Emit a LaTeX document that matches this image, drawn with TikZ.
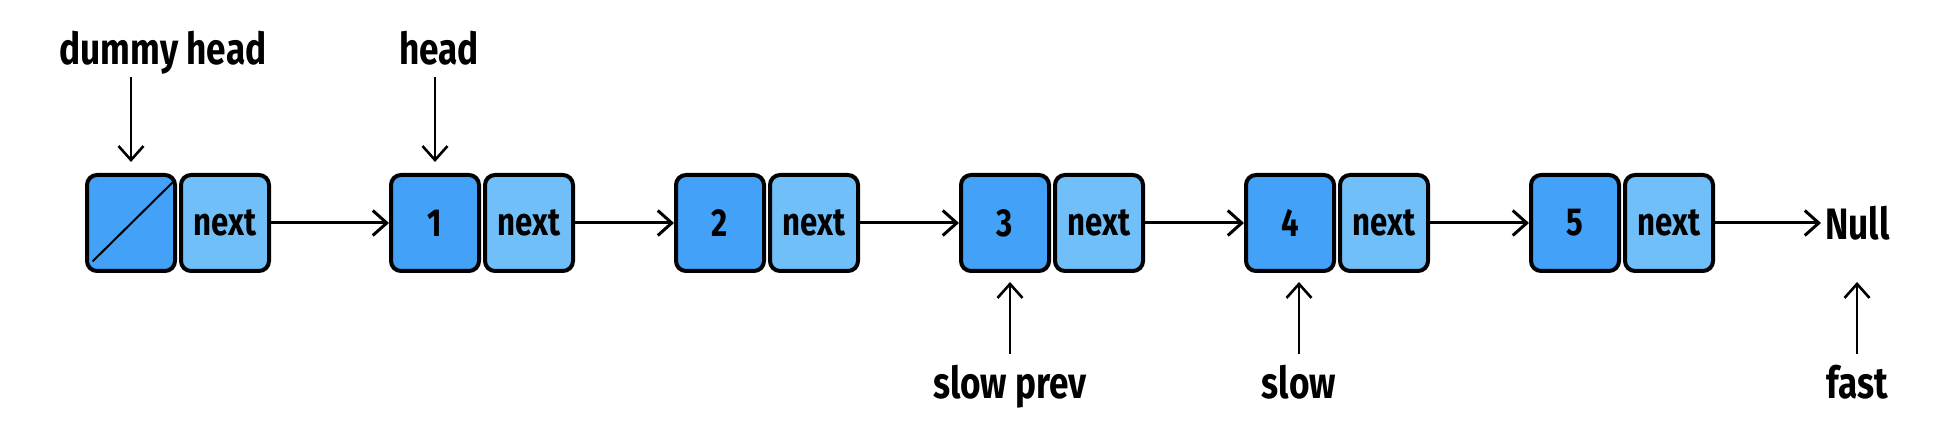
\documentclass[tikz,border=0pt]{standalone}
\usepackage{fontspec}
\setmainfont{Fira Sans}[FakeStretch=0.8]
\usepackage{tikz}
\usetikzlibrary{arrows.meta,positioning}
\definecolor{valblue}{HTML}{43A1F7}
\definecolor{nextblue}{HTML}{71BFF9}

\begin{document}
\begin{tikzpicture}[x=0.5pt,y=-0.5pt,
  font=\bfseries,
  cell/.style={rounded corners=5pt,draw=black,line width=2pt,inner sep=0pt,
    minimum width=44pt,minimum height=48pt,font=\fontsize{19.5}{21}\selectfont\bfseries},
  val/.style={cell,fill=valblue},
  nxt/.style={cell,fill=nextblue},
  lbl/.style={font=\fontsize{22}{24}\selectfont\bfseries,inner sep=3pt,text depth=0pt},
  link/.style={-{Straight Barb[length=7pt,width=12.5pt]},line width=1.5pt},
  ptr/.style={link,line width=1.3pt}]
\useasboundingbox (0,0) rectangle (1952,448);
% list cells
\node[val] (v0) at (131,223) {};
\node[nxt,right=1pt of v0] (n0) {next};
\node[val,right=59pt of n0] (v1) {1};
\node[nxt,right=1pt of v1] (n1) {next};
\node[val,right=49.5pt of n1] (v2) {2};
\node[nxt,right=1pt of v2] (n2) {next};
\node[val,right=49.5pt of n2] (v3) {3};
\node[nxt,right=1pt of v3] (n3) {next};
\node[val,right=49.5pt of n3] (v4) {4};
\node[nxt,right=1pt of v4] (n4) {next};
\node[val,right=49.5pt of n4] (v5) {5};
\node[nxt,right=1pt of v5] (n5) {next};
\node[lbl,right=53pt of n5,inner sep=2pt] (null) {Null};
\draw[line width=1pt] ([shift={(3.75pt,5.75pt)}]v0.south west) -- ([shift={(-2.25pt,-4.75pt)}]v0.north east);
% next links
\draw[link] (n0.east) -- (v1.west);
\draw[link] (n1.east) -- (v2.west);
\draw[link] (n2.east) -- (v3.west);
\draw[link] (n3.east) -- (v4.west);
\draw[link] (n4.east) -- (v5.west);
\draw[link] (n5.east) -- (null.west);
% pointers
\node[lbl,anchor=base] (dh) at (163,65) {dummy head};
\node[lbl,anchor=base] (hd) at (439,65) {head};
\node[lbl,anchor=base] (sp) at (1010,398) {slow prev};
\node[lbl,anchor=base] (sl) at (1299,398) {slow};
\node[lbl,anchor=base] (fs) at (1857,398) {fast};
\draw[ptr,shorten <=3pt,shorten >=5.5pt] (v0 |- dh.south) -- (v0.north);
\draw[ptr,shorten <=3pt,shorten >=5.5pt] (v1 |- hd.south) -- (v1.north);
\draw[ptr,shorten <=2pt,shorten >=4.5pt] (sp.north) -- (sp.north |- v3.south);
\draw[ptr,shorten <=2pt,shorten >=4.5pt] (sl.north) -- (sl.north |- v4.south);
\draw[ptr,shorten <=2pt,shorten >=4.5pt] (fs.north) -- (fs.north |- v4.south);
\end{tikzpicture}
\end{document}
